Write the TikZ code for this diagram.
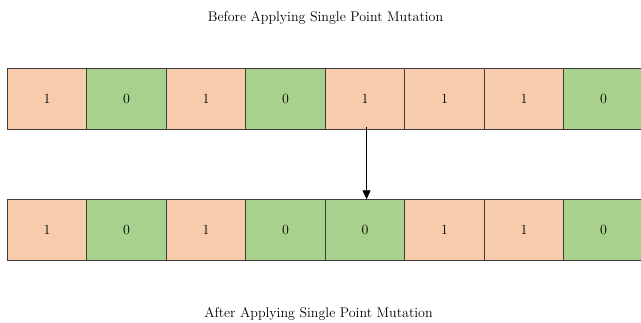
\documentclass[tikz,border=0pt]{standalone}
\usetikzlibrary{arrows.meta}
\definecolor{bitone}{HTML}{F8CBAD}
\definecolor{bitzero}{HTML}{A9D18E}
\definecolor{cellline}{HTML}{3C3C3C}
\begin{document}
\begin{tikzpicture}[x=1pt,y=1pt,
  cell/.style={draw=cellline,line width=0.9pt,minimum width=79.5pt,
    minimum height=60.5pt,inner sep=0pt,font=\fontsize{14}{16}\selectfont},
  bit1/.style={cell,fill=bitone},
  bit0/.style={cell,fill=bitzero},
  caption/.style={font=\fontsize{14}{16}\selectfont},
  flip/.style={line width=0.7pt,-{Triangle[length=9pt,width=8pt]}}]
\useasboundingbox (0,0) rectangle (641,322);
\clip (0,0) rectangle (641,322);
% chromosome before mutation
\foreach \b [count=\i] in {1,0,1,0,1,1,1,0}
  \node[bit\b] (t\i) at ({7.3+79.5*(\i-0.5)},223) {\b};
% chromosome after mutation (fifth gene flipped)
\foreach \b [count=\i] in {1,0,1,0,0,1,1,0}
  \node[bit\b] (b\i) at ({7.3+79.5*(\i-0.5)},92) {\b};
\node[caption] (before) at (325.5,304) {Before Applying Single Point Mutation};
\node[caption] (after) at (318.5,8) {After Applying Single Point Mutation};
\coordinate (src) at ([xshift=1.5pt,yshift=3pt]t5.south);
\draw[flip] (src) -- ([xshift=1.5pt]b5.north);
\end{tikzpicture}
\end{document}
